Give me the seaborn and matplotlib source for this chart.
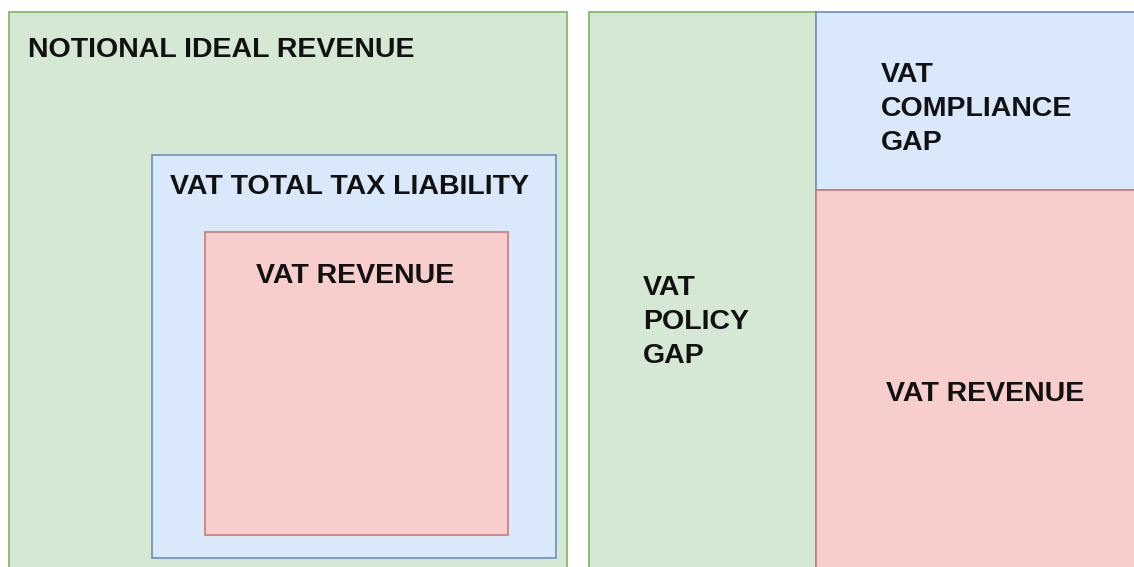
import matplotlib
matplotlib.use("Agg")
import matplotlib.pyplot as plt
from matplotlib.patches import Rectangle
import seaborn as sns

sns.set_theme(style="white")
plt.rcParams['font.family'] = ['Liberation Sans', 'DejaVu Sans']

# Diagram components: labels and box extents (x0, y0, x1, y1) in pixel-like units
box_labels = ["NOTIONAL IDEAL REVENUE", "VAT TOTAL TAX LIABILITY", "VAT REVENUE",
              "VAT\nPOLICY\nGAP", "VAT\nCOMPLIANCE\nGAP", "VAT REVENUE"]
box_x0 = [9, 152, 205, 589, 816, 816]
box_y0 = [12, 155, 232, 12, 12, 190]
box_x1 = [567, 556, 508, 816, 1140, 1140]
box_y1 = [575, 558, 535, 575, 190, 575]
box_kind = ["green", "blue", "red", "green", "blue", "red"]

fills = {"green": "#d5e8d4", "blue": "#dae8fc", "red": "#f8cecc"}
edges = {"green": "#82b366", "blue": "#6c8ebf", "red": "#c87a78"}

# label anchor positions
lab_x = [28, 170, 355, 643, 881, 985]
lab_y = [50, 187, 276, 322, 109, 394]
lab_ha = ["left", "left", "center", "left", "left", "center"]

fig = plt.figure(figsize=(11.34, 5.67), dpi=100)
ax = fig.add_axes([0, 0, 1, 1])
ax.set_xlim(0, 1134)
ax.set_ylim(567, 0)
ax.axis("off")

for lbl, x0, y0, x1, y1, k, tx, ty, ha in zip(box_labels, box_x0, box_y0, box_x1, box_y1,
                                                box_kind, lab_x, lab_y, lab_ha):
    ax.add_patch(Rectangle((x0, y0), x1 - x0, y1 - y0, facecolor=fills[k],
                           edgecolor=edges[k], linewidth=1.2))
    ax.text(tx, ty, lbl, ha=ha, va="center", fontsize=20.5, fontweight="bold",
            color="#111111", linespacing=1.4)

fig.savefig("out.png", dpi=100)
